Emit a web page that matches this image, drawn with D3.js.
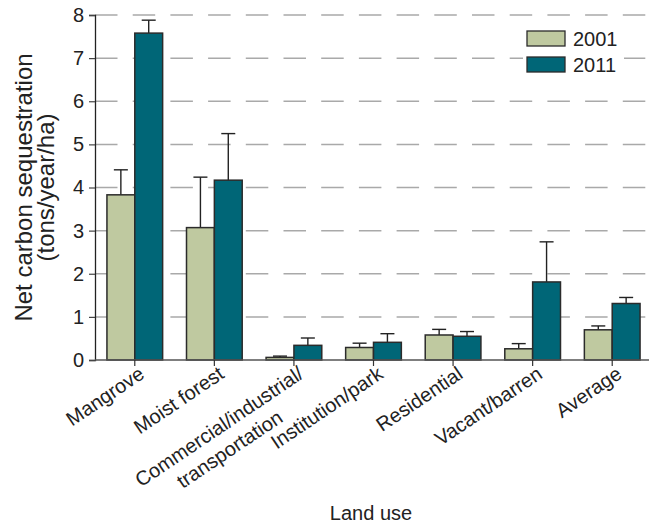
<!DOCTYPE html>
<html>
<head>
<meta charset="utf-8">
<script src="https://cdn.jsdelivr.net/npm/d3@7"></script>
<style>
  html, body { margin: 0; padding: 0; background: #fff; }
  svg { display: block; }
  text { font-family: "Liberation Sans", Arial, Helvetica, sans-serif; fill: #222; }
</style>
</head>
<body>
<svg id="chart" width="649" height="529"></svg>
<script>
// Net carbon sequestration by land use, 2001 vs 2011
const categories = [
  ["Mangrove"],
  ["Moist forest"],
  ["Commercial/industrial/", "transportation"],
  ["Institution/park"],
  ["Residential"],
  ["Vacant/barren"],
  ["Average"]
];
const years = ["2001", "2011"];
const values2001 = [3.83, 3.07, 0.06, 0.29, 0.58, 0.26, 0.70];
const values2011 = [7.58, 4.17, 0.34, 0.41, 0.55, 1.81, 1.31];
// upper end of each error bar
const errTop2001 = [4.41, 4.24, 0.09, 0.39, 0.71, 0.38, 0.79];
const errTop2011 = [7.88, 5.25, 0.51, 0.61, 0.66, 2.74, 1.45];
const yTicks = [0, 1, 2, 3, 4, 5, 6, 7, 8];
const colors = { "2001": "#bfc9a0", "2011": "#006677" };

const svg = d3.select("#chart");
const W = 649, H = 529;
const plotLeft = 95, plotRight = 652, plotTop = 15, plotBottom = 360;
const labelAngle = -34;

const catKeys = categories.map(c => c.join(" "));
const x = d3.scaleBand().domain(catKeys).range([plotLeft, plotRight])
  .paddingInner(0.3).paddingOuter(0.15);
const xs = d3.scaleBand().domain(years).range([0, x.bandwidth()]).padding(0);
const y = d3.scaleLinear().domain([0, 8]).range([plotBottom, plotTop]);

// dashed horizontal grid
svg.append("g").selectAll("line")
  .data(yTicks.filter(t => t > 0))
  .join("line")
  .attr("x1", plotLeft).attr("x2", W)
  .attr("y1", d => y(d)).attr("y2", d => y(d))
  .attr("stroke", "#a9a9a9").attr("stroke-width", 1.5)
  .attr("stroke-dasharray", "22.5,15.2");

// bars
const rows = catKeys.map((k, i) => ({
  key: k,
  bars: [
    { year: "2001", v: values2001[i], e: errTop2001[i] },
    { year: "2011", v: values2011[i], e: errTop2011[i] }
  ]
}));

const groups = svg.append("g").selectAll("g")
  .data(rows).join("g")
  .attr("transform", d => `translate(${x(d.key)},0)`);

// error bars (drawn under the bars so the stem starts at the bar top)
groups.selectAll("g.err")
  .data(d => d.bars).join("g").attr("class", "err")
  .each(function(d) {
    const g = d3.select(this);
    const cx = xs(d.year) + xs.bandwidth() / 2;
    g.append("line").attr("x1", cx).attr("x2", cx)
      .attr("y1", y(d.v)).attr("y2", y(d.e))
      .attr("stroke", "#222").attr("stroke-width", 1.4);
    g.append("line").attr("x1", cx - 7).attr("x2", cx + 7)
      .attr("y1", y(d.e)).attr("y2", y(d.e))
      .attr("stroke", "#222").attr("stroke-width", 1.4);
  });

groups.selectAll("rect")
  .data(d => d.bars).join("rect")
  .attr("x", d => xs(d.year))
  .attr("width", xs.bandwidth())
  .attr("y", d => y(d.v))
  .attr("height", d => y(0) - y(d.v))
  .attr("fill", d => colors[d.year])
  .attr("stroke", "#2b2b2b").attr("stroke-width", 1.5);

// y axis
const yAxis = svg.append("g").attr("transform", `translate(${plotLeft},0)`)
  .call(d3.axisLeft(y).tickValues(yTicks).tickSize(6).tickPadding(5).tickFormat(d3.format("d")));
yAxis.select(".domain").attr("stroke", "#222").attr("stroke-width", 1.3);
yAxis.selectAll(".tick line").attr("stroke", "#444").attr("stroke-width", 1.2);
yAxis.selectAll(".tick text").attr("font-size", 20).attr("fill", "#222")
  .style("font-family", '"Liberation Sans", Arial, sans-serif');

// x axis
svg.append("line").attr("x1", plotLeft).attr("x2", W)
  .attr("y1", plotBottom).attr("y2", plotBottom)
  .attr("stroke", "#555").attr("stroke-width", 1.5);
svg.append("g").selectAll("line")
  .data(catKeys).join("line")
  .attr("x1", d => x(d) + x.bandwidth() / 2).attr("x2", d => x(d) + x.bandwidth() / 2)
  .attr("y1", plotBottom).attr("y2", plotBottom + 6)
  .attr("stroke", "#333").attr("stroke-width", 1.2);

// rotated category labels; a second line is centred under the first
const labels = svg.append("g").selectAll("g")
  .data(categories).join("g")
  .attr("transform", (d, i) => `translate(${x(catKeys[i]) + x.bandwidth() / 2 + 3},${plotBottom + 5}) rotate(${labelAngle})`);
labels.each(function(lines) {
  const g = d3.select(this);
  const t1 = g.append("text").attr("text-anchor", "end").attr("dy", "0.72em")
    .attr("font-size", 20).text(lines[0]);
  if (lines.length > 1) {
    const w = t1.node().getComputedTextLength();
    g.append("text").attr("text-anchor", "middle")
      .attr("x", -w / 2 - 4).attr("dy", "1.95em")
      .attr("font-size", 20).text(lines[1]);
  }
});

// axis titles
const yt = svg.append("text").attr("transform", `translate(32,${(plotTop + plotBottom) / 2}) rotate(-90)`)
  .attr("text-anchor", "middle").attr("font-size", 24);
yt.append("tspan").attr("x", 0).attr("dy", 0).text("Net carbon sequestration");
yt.append("tspan").attr("x", 0).attr("dy", "0.9em").text("(tons/year/ha)");

svg.append("text").attr("x", 371).attr("y", 520)
  .attr("text-anchor", "middle").attr("font-size", 20).text("Land use");

// legend
const lg = svg.append("g");
lg.append("rect").attr("x", 523).attr("y", 24).attr("width", 101).attr("height", 56)
  .attr("fill", "#fff");
const items = lg.selectAll("g.item").data(years).join("g").attr("class", "item")
  .attr("transform", (d, i) => `translate(527,${31 + i * 26})`);
items.append("rect").attr("width", 38).attr("height", 15)
  .attr("fill", d => colors[d]).attr("stroke", "#2b2b2b").attr("stroke-width", 1.3);
items.append("text").attr("x", 46).attr("y", 7.5).attr("dy", "0.36em")
  .attr("font-size", 20).text(d => d);
</script>
</body>
</html>
